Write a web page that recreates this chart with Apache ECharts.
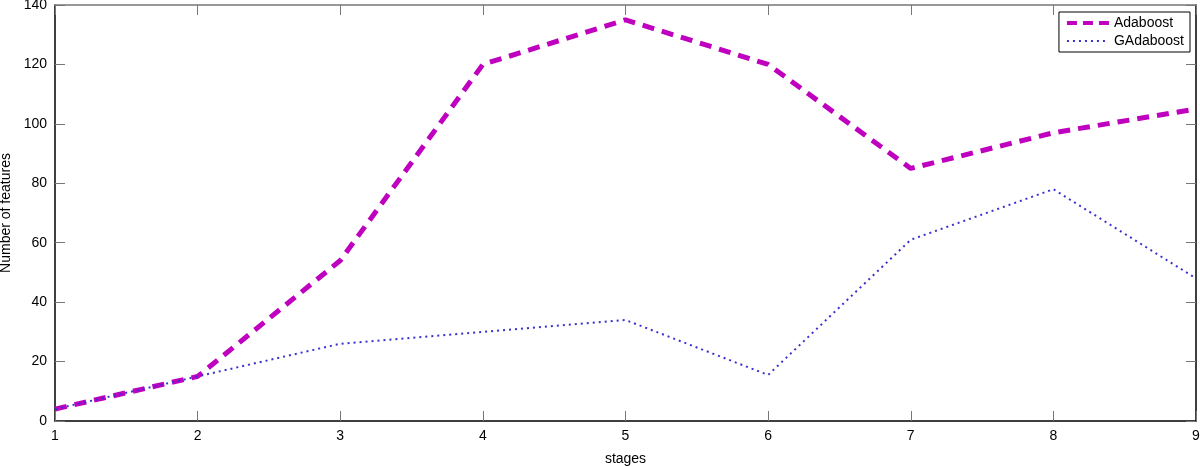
<!DOCTYPE html>
<html>
<head>
<meta charset="utf-8">
<script src="https://cdn.jsdelivr.net/npm/echarts@6/dist/echarts.min.js"></script>
<style>html,body{margin:0;padding:0;background:#fff}#c{width:1200px;height:466px}</style>
</head>
<body>
<div id="c"></div>
<script>
const stages = [1, 2, 3, 4, 5, 6, 7, 8, 9];
const adaboost = [4, 15, 54, 120, 135, 120, 85, 97, 105];
const gadaboost = [4, 15, 26, 30, 34, 15.5, 61, 78, 48];
const yTicks = [0, 20, 40, 60, 80, 100, 120, 140];

const chart = echarts.init(document.getElementById('c'));
const font = 'Liberation Sans, Arial, Helvetica, sans-serif';
const pair = arr => stages.map((s, i) => [s, arr[i]]);
const tickStyle = {show: true, inside: true, length: 10, lineStyle: {color: '#777', width: 1}};
chart.setOption({
  animation: false,
  textStyle: {fontFamily: font},
  grid: {left: 55, right: 4, top: 5, bottom: 45, containLabel: false, outerBoundsMode: 'none'},
  legend: {
    orient: 'vertical', right: 10, top: 12,
    backgroundColor: '#fff', borderColor: '#000', borderWidth: 1,
    padding: [4, 6, 4, 6], itemGap: 4, itemWidth: 42, itemHeight: 12,
    itemStyle: {opacity: 0},
    textStyle: {fontSize: 14, color: '#000', fontFamily: font},
    data: [
      {name: 'Adaboost', lineStyle: {width: 4, type: [10, 6]}},
      {name: 'GAdaboost', lineStyle: {width: 2, type: [2, 4]}}
    ]
  },
  xAxis: [{
    type: 'value', min: 1, max: 9, interval: 1, position: 'bottom',
    name: 'stages', nameLocation: 'middle', nameGap: 31,
    nameTextStyle: {fontSize: 14, color: '#000', fontFamily: font},
    axisLine: {show: true, onZero: false, lineStyle: {color: '#000', width: 1.5}},
    axisTick: tickStyle,
    axisLabel: {fontSize: 14, color: '#000', margin: 8, fontFamily: font},
    splitLine: {show: false}
  }, {
    type: 'value', min: 1, max: 9, interval: 1, position: 'top',
    axisLine: {show: true, onZero: false, lineStyle: {color: '#777', width: 1.5}},
    axisTick: tickStyle, axisLabel: {show: false}, splitLine: {show: false}
  }],
  yAxis: [{
    type: 'value', min: 0, max: 140, interval: 20, position: 'left',
    name: 'Number of features', nameLocation: 'middle', nameGap: 39, nameRotate: 90,
    nameTextStyle: {fontSize: 14, color: '#000', fontFamily: font},
    axisLine: {show: true, onZero: false, lineStyle: {color: '#000', width: 1.5}},
    axisTick: tickStyle,
    axisLabel: {fontSize: 14, color: '#000', margin: 8, fontFamily: font,
      formatter: v => yTicks.includes(v) ? String(v) : ''},
    splitLine: {show: false}
  }, {
    type: 'value', min: 0, max: 140, interval: 20, position: 'right',
    axisLine: {show: true, onZero: false, lineStyle: {color: '#000', width: 1.5}},
    axisTick: tickStyle, axisLabel: {show: false}, splitLine: {show: false}
  }],
  series: [{
    name: 'Adaboost', type: 'line', data: pair(adaboost),
    showSymbol: false, symbol: 'none',
    lineStyle: {color: '#bf00bf', width: 5, type: [12, 8]},
    itemStyle: {color: '#bf00bf'}, z: 3
  }, {
    name: 'GAdaboost', type: 'line', data: pair(gadaboost),
    showSymbol: false, symbol: 'none',
    lineStyle: {color: '#3a30d0', width: 2, type: [2, 4]},
    itemStyle: {color: '#3a30d0'}, z: 4
  }]
});
</script>
</body>
</html>
